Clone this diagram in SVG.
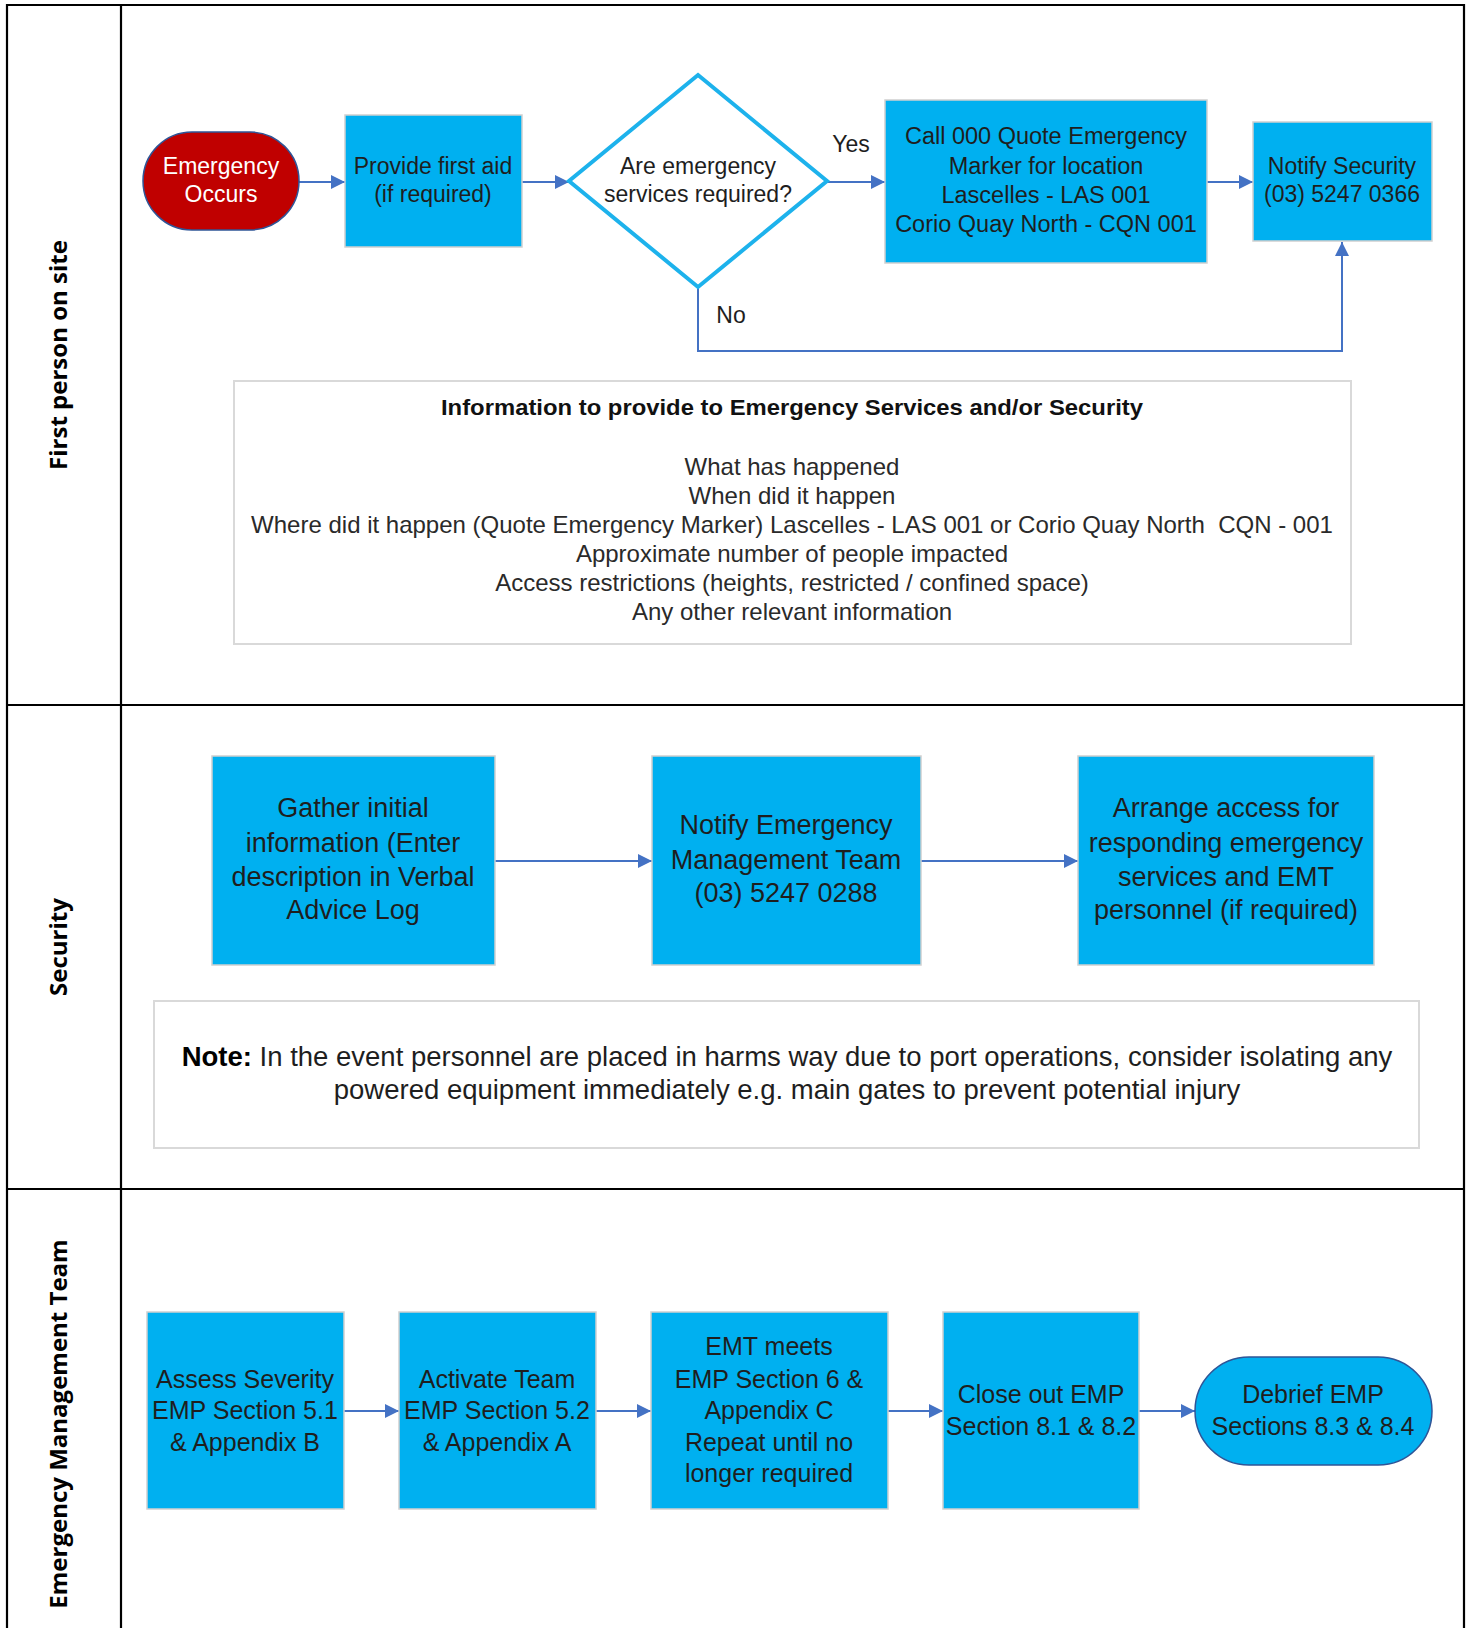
<svg xmlns="http://www.w3.org/2000/svg" width="1471" height="1628" viewBox="0 0 1471 1628">
<style>
.lane{fill:none;stroke:#000;stroke-width:2.2}
.box{fill:#00B0F0;stroke:#D0D0D0;stroke-width:1.5}
.pill{stroke:#2F5597;stroke-width:1.5}
.t{font-family:"Liberation Sans",Arial,sans-serif;fill:#1E1E1E;text-anchor:middle}
.t23{font-size:23px}
.t27{font-size:27px}
.t25{font-size:25px}
.t22{font-size:24px;fill:#2A2A2A}
.lbl{font-family:"Open Sans",sans-serif;font-weight:700;font-size:24px;fill:#000;text-anchor:middle;dominant-baseline:central}
.conn{fill:none;stroke:#4472C4;stroke-width:2}
.note{fill:#fff;stroke:#D9D9D9;stroke-width:2}
</style>
<defs>
<marker id="ah" markerUnits="userSpaceOnUse" markerWidth="16" markerHeight="16" refX="14" refY="7" orient="auto">
<path d="M0,0 L14,7 L0,14 z" fill="#4472C4"/>
</marker>
</defs>
<rect width="1471" height="1628" fill="#fff"/>
<g id="lanes">
<path class="lane" d="M7,1640 V5 H1464 V1640"/>
<line class="lane" x1="121" y1="5" x2="121" y2="1640"/>
<line class="lane" x1="7" y1="705" x2="1464" y2="705"/>
<line class="lane" x1="7" y1="1189" x2="1464" y2="1189"/>
<text class="lbl" transform="translate(57,355) rotate(-90)">First person on site</text>
<text class="lbl" transform="translate(57,947) rotate(-90)">Security</text>
<text class="lbl" transform="translate(57,1424) rotate(-90)">Emergency Management Team</text>
</g>
<g id="connectors">
<line class="conn" x1="299" y1="182" x2="345" y2="182" marker-end="url(#ah)"/>
<line class="conn" x1="522" y1="182" x2="569" y2="182" marker-end="url(#ah)"/>
<line class="conn" x1="827" y1="182" x2="885" y2="182" marker-end="url(#ah)"/>
<line class="conn" x1="1207" y1="182" x2="1253" y2="182" marker-end="url(#ah)"/>
<path class="conn" d="M698,287 V351 H1342 V242" marker-end="url(#ah)"/>
<text class="t t23" x="851" y="152">Yes</text>
<text class="t t23" x="731" y="323">No</text>
<line class="conn" x1="495" y1="861" x2="652" y2="861" marker-end="url(#ah)"/>
<line class="conn" x1="921" y1="861" x2="1078" y2="861" marker-end="url(#ah)"/>
<line class="conn" x1="344" y1="1411" x2="399" y2="1411" marker-end="url(#ah)"/>
<line class="conn" x1="596" y1="1411" x2="651" y2="1411" marker-end="url(#ah)"/>
<line class="conn" x1="888" y1="1411" x2="943" y2="1411" marker-end="url(#ah)"/>
<line class="conn" x1="1139" y1="1411" x2="1195" y2="1411" marker-end="url(#ah)"/>
</g>
<g id="emergency-occurs">
<rect class="pill" x="143" y="132" width="156" height="98" rx="49" fill="#C00000"/>
<text class="t t23" x="221" y="174" style="fill:#fff">Emergency</text>
<text class="t t23" x="221" y="202" style="fill:#fff">Occurs</text>
</g>
<g id="first-aid">
<rect class="box" x="345" y="115" width="177" height="132"/>
<text class="t t23" x="433" y="174">Provide first aid</text>
<text class="t t23" x="433" y="202">(if required)</text>
</g>
<g id="decision">
<polygon points="698,75 827,181 698,287 569,181" fill="#fff" stroke="#1DB2EC" stroke-width="4"/>
<text class="t t23" x="698" y="174">Are emergency</text>
<text class="t t23" x="698" y="202">services required?</text>
</g>
<g id="call-000">
<rect class="box" x="885" y="100" width="322" height="163"/>
<text class="t" style="font-size:23.5px" x="1046" y="144">Call 000 Quote Emergency</text>
<text class="t" style="font-size:23.5px" x="1046" y="174">Marker for location</text>
<text class="t" style="font-size:23.5px" x="1046" y="203">Lascelles - LAS 001</text>
<text class="t" style="font-size:23.5px" x="1046" y="232">Corio Quay North - CQN 001</text>
</g>
<g id="notify-security">
<rect class="box" x="1253" y="122" width="179" height="119"/>
<text class="t t23" x="1342" y="174">Notify Security</text>
<text class="t t23" x="1342" y="202">(03) 5247 0366</text>
</g>
<g id="info-box">
<rect class="note" x="234" y="381" width="1117" height="263"/>
<text class="t" x="792" y="415" textLength="702" lengthAdjust="spacingAndGlyphs" style="font-size:22px;font-weight:700;fill:#111">Information to provide to Emergency Services and/or Security</text>
<text class="t t22" x="792" y="475">What has happened</text>
<text class="t t22" x="792" y="504">When did it happen</text>
<text class="t t22" x="792" y="533" xml:space="preserve">Where did it happen (Quote Emergency Marker) Lascelles - LAS 001 or Corio Quay North  CQN - 001</text>
<text class="t t22" x="792" y="562">Approximate number of people impacted</text>
<text class="t t22" x="792" y="591">Access restrictions (heights, restricted / confined space)</text>
<text class="t t22" x="792" y="620">Any other relevant information</text>
</g>
<g id="gather-info">
<rect class="box" x="212" y="756" width="283" height="209"/>
<text class="t t27" x="353" y="817">Gather initial</text>
<text class="t t27" x="353" y="852">information (Enter</text>
<text class="t t27" x="353" y="886">description in Verbal</text>
<text class="t t27" x="353" y="919">Advice Log</text>
</g>
<g id="notify-emt">
<rect class="box" x="652" y="756" width="269" height="209"/>
<text class="t t27" x="786" y="834">Notify Emergency</text>
<text class="t t27" x="786" y="869">Management Team</text>
<text class="t t27" x="786" y="902">(03) 5247 0288</text>
</g>
<g id="arrange-access">
<rect class="box" x="1078" y="756" width="296" height="209"/>
<text class="t t27" x="1226" y="817">Arrange access for</text>
<text class="t t27" x="1226" y="852">responding emergency</text>
<text class="t t27" x="1226" y="886">services and EMT</text>
<text class="t t27" x="1226" y="919">personnel (if required)</text>
</g>
<g id="note-box">
<rect class="note" x="154" y="1001" width="1265" height="147"/>
<text class="t" x="787" y="1066" style="font-size:27.5px"><tspan style="font-weight:700;fill:#000">Note:</tspan> In the event personnel are placed in harms way due to port operations, consider isolating any</text>
<text class="t" x="787" y="1099" style="font-size:27.5px">powered equipment immediately e.g. main gates to prevent potential injury</text>
</g>
<g id="assess">
<rect class="box" x="147" y="1312" width="197" height="197"/>
<text class="t t25" x="245" y="1388">Assess Severity</text>
<text class="t t25" x="245" y="1419">EMP Section 5.1</text>
<text class="t t25" x="245" y="1451">&amp; Appendix B</text>
</g>
<g id="activate">
<rect class="box" x="399" y="1312" width="197" height="197"/>
<text class="t t25" x="497" y="1388">Activate Team</text>
<text class="t t25" x="497" y="1419">EMP Section 5.2</text>
<text class="t t25" x="497" y="1451">&amp; Appendix A</text>
</g>
<g id="emt-meets">
<rect class="box" x="651" y="1312" width="237" height="197"/>
<text class="t t25" x="769" y="1355">EMT meets</text>
<text class="t t25" x="769" y="1388">EMP Section 6 &amp;</text>
<text class="t t25" x="769" y="1419">Appendix C</text>
<text class="t t25" x="769" y="1451">Repeat until no</text>
<text class="t t25" x="769" y="1482">longer required</text>
</g>
<g id="close-out">
<rect class="box" x="943" y="1312" width="196" height="197"/>
<text class="t t25" x="1041" y="1403">Close out EMP</text>
<text class="t t25" x="1041" y="1435">Section 8.1 &amp; 8.2</text>
</g>
<g id="debrief">
<rect class="pill" x="1195" y="1357" width="237" height="108" rx="54" fill="#00B0F0"/>
<text class="t t25" x="1313" y="1403">Debrief EMP</text>
<text class="t t25" x="1313" y="1435">Sections 8.3 &amp; 8.4</text>
</g>
</svg>
